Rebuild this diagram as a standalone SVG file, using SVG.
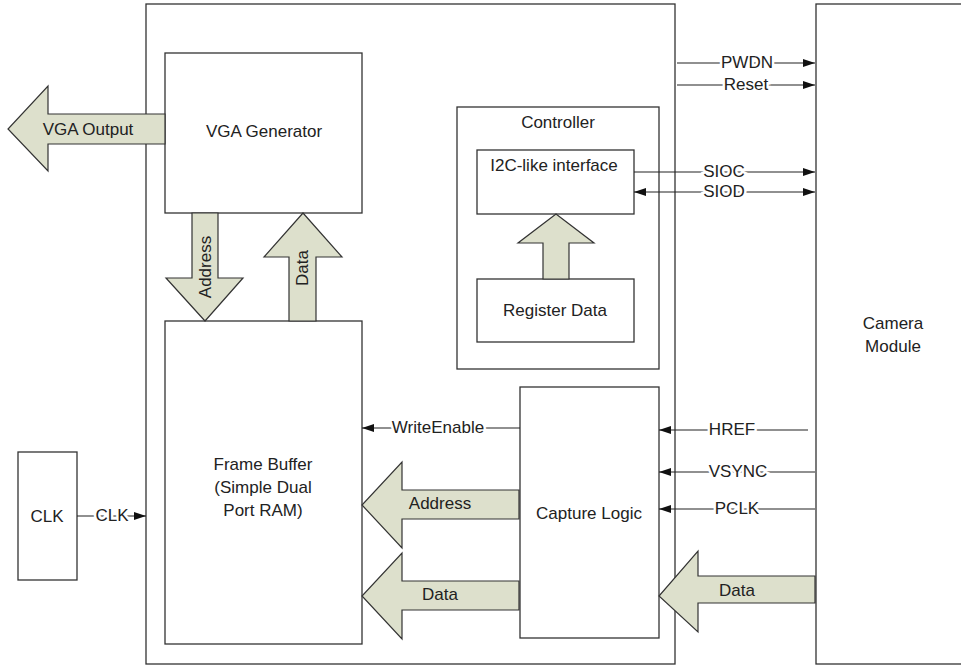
<svg xmlns="http://www.w3.org/2000/svg" width="961" height="666" viewBox="0 0 961 666">
<defs>
<style>
.box{fill:#fff;stroke:#333;stroke-width:1.3}
.fat{fill:#dde0cc;stroke:#333;stroke-width:1.2;stroke-linejoin:miter}
.t{font-family:"Liberation Sans",Arial,sans-serif;font-size:17px;fill:#222;text-anchor:middle;dominant-baseline:central}
.lbl{font-family:"Liberation Sans",Arial,sans-serif;font-size:17px;fill:#222;text-anchor:middle;dominant-baseline:central;paint-order:stroke;stroke:#fff;stroke-width:5px}
.ln{stroke:#222;stroke-width:1.2;fill:none}
</style>
<marker id="ah" viewBox="0 0 12 8" refX="12" refY="4" markerWidth="12" markerHeight="8" markerUnits="userSpaceOnUse" orient="auto-start-reverse">
<path d="M0,0 L12,4 L0,8 Z" fill="#111"/>
</marker>
</defs>
<rect width="961" height="666" fill="#fff"/>

<g id="system">
<rect class="box" x="146" y="4" width="529" height="660"/>
</g>
<g id="camera">
<rect class="box" x="816" y="4" width="160" height="660"/>
<text class="t" x="893" y="323">Camera</text>
<text class="t" x="893" y="346">Module</text>
</g>
<g id="vga-generator">
<rect class="box" x="165" y="53" width="197" height="160"/>
<text class="t" x="264" y="131">VGA Generator</text>
</g>
<g id="frame-buffer">
<rect class="box" x="165" y="321" width="197" height="323"/>
<text class="t" x="263" y="464">Frame Buffer</text>
<text class="t" x="263" y="487">(Simple Dual</text>
<text class="t" x="263" y="510">Port RAM)</text>
</g>
<g id="controller">
<rect class="box" x="457" y="107" width="202" height="262"/>
<text class="t" x="558" y="122">Controller</text>
</g>
<g id="i2c">
<rect class="box" x="477" y="150" width="157" height="64"/>
<text class="t" x="554" y="165">I2C-like interface</text>
</g>
<g id="register-data">
<rect class="box" x="477" y="279" width="157" height="63"/>
<text class="t" x="555" y="310">Register Data</text>
</g>
<g id="capture-logic">
<rect class="box" x="520" y="387" width="139" height="251"/>
<text class="t" x="589" y="513">Capture Logic</text>
</g>
<g id="clk">
<rect class="box" x="18" y="452" width="59" height="128"/>
<text class="t" x="47" y="516">CLK</text>
</g>

<g id="connectors">
<!-- fat arrows -->
<path class="fat" d="M165,114 L48,114 L48,86 L8,129 L48,171 L48,144 L165,144 Z"/>
<text class="t" x="88" y="129">VGA Output</text>

<path class="fat" d="M192,213 L218,213 L218,278 L243,278 L205,321 L166,278 L192,278 Z"/>
<text class="t" transform="translate(205,267) rotate(-90)">Address</text>

<path class="fat" d="M289,321 L289,257 L264,257 L303,213 L342,257 L316,257 L316,321 Z"/>
<text class="t" transform="translate(302,268) rotate(-90)">Data</text>

<path class="fat" d="M543,279 L543,243 L518,243 L556,214 L594,243 L569,243 L569,279 Z"/>

<path class="fat" d="M519,490 L402,490 L402,462 L362,505 L402,548 L402,519 L519,519 Z"/>
<text class="t" x="440" y="503">Address</text>

<path class="fat" d="M519,581 L402,581 L402,553 L362,596 L402,639 L402,610 L519,610 Z"/>
<text class="t" x="440" y="594">Data</text>

<path class="fat" d="M815,576 L698,576 L698,551 L659,596 L698,632 L698,603 L815,603 Z"/>
<text class="t" x="737" y="590">Data</text>

<!-- thin signal lines -->
<line class="ln" x1="677" y1="63" x2="815" y2="63" marker-end="url(#ah)"/>
<text class="lbl" x="747" y="62">PWDN</text>
<line class="ln" x1="677" y1="85" x2="815" y2="85" marker-end="url(#ah)"/>
<text class="lbl" x="746" y="84">Reset</text>

<line class="ln" x1="634" y1="172" x2="815" y2="172" marker-end="url(#ah)"/>
<text class="lbl" x="724" y="171">SIOC</text>
<line class="ln" x1="634" y1="192" x2="815" y2="192" marker-start="url(#ah)" marker-end="url(#ah)"/>
<text class="lbl" x="724" y="191">SIOD</text>

<line class="ln" x1="520" y1="428" x2="362" y2="428" marker-end="url(#ah)"/>
<text class="lbl" x="438" y="427">WriteEnable</text>

<line class="ln" x1="808" y1="430" x2="659" y2="430" marker-end="url(#ah)"/>
<text class="lbl" x="732" y="429">HREF</text>
<line class="ln" x1="815" y1="472" x2="659" y2="472" marker-end="url(#ah)"/>
<text class="lbl" x="738" y="471">VSYNC</text>
<line class="ln" x1="815" y1="509" x2="659" y2="509" marker-end="url(#ah)"/>
<text class="lbl" x="737" y="508">PCLK</text>

<line class="ln" x1="77" y1="516" x2="146" y2="516" marker-end="url(#ah)"/>
<text class="lbl" x="112" y="515">CLK</text>
</g>
</svg>
